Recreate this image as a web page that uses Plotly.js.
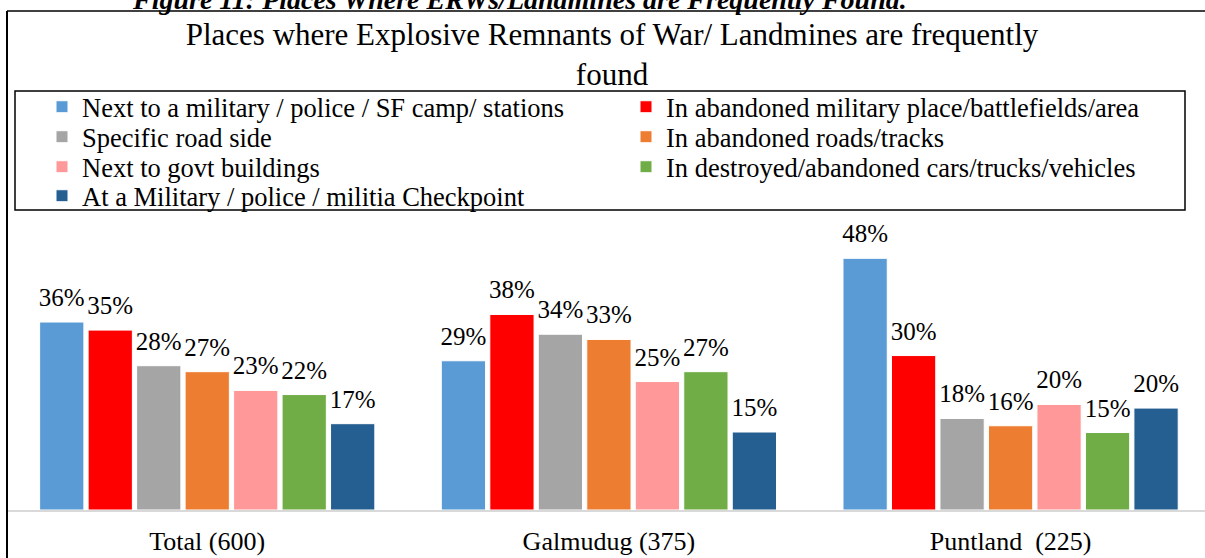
<!DOCTYPE html>
<html>
<head>
<meta charset="utf-8">
<script src="https://cdn.plot.ly/plotly-3.0.1.min.js"></script>
<style>
  html, body { margin: 0; padding: 0; background: #ffffff; }
  #chart { width: 1205px; height: 558px; }
</style>
</head>
<body>
<div id="chart"></div>
<script>
// ---------- data ----------
const categories = ["Total (600)", "Galmudug (375)", "Puntland\u00a0 (225)"];

const seriesNames = [
  "Next to a military / police / SF camp/ stations",
  "In abandoned military place/battlefields/area",
  "Specific road side",
  "In abandoned roads/tracks",
  "Next to govt buildings",
  "In destroyed/abandoned cars/trucks/vehicles",
  "At a Military / police / militia Checkpoint"
];

const nextToCamp       = [36.15, 28.7, 48.4];
const abandonedMilArea = [34.6, 37.6, 29.7];
const specificRoadSide = [27.75, 33.8, 17.6];
const abandonedRoads   = [26.6, 32.8, 16.2];
const govtBuildings    = [23.0, 24.7, 20.3];
const destroyedVehicles = [22.2, 26.6, 14.9];
const checkpoint       = [16.6, 15.0, 19.6];

const seriesValues = [nextToCamp, abandonedMilArea, specificRoadSide, abandonedRoads,
                      govtBuildings, destroyedVehicles, checkpoint];

const seriesColors = ["#5B9BD5", "#FF0000", "#A5A5A5", "#ED7D31", "#FF9999", "#70AD47", "#255E91"];

const titleText = "Places where Explosive Remnants of War/ Landmines are frequently<br>found";
const captionText = "Figure 11: Places Where ERWs/Landmines are Frequently Found.";

// ---------- layout helpers ----------
const W = 1205, H = 558;
const mL = 8, mR = 0, mT = 220, mB = 48;
const plotW = W - mL - mR, plotH = H - mT - mB;
const px2paperX = px => (px - mL) / plotW;
const px2paperY = py => (H - mB - py) / plotH;

const FONT = "Liberation Serif, Times New Roman, serif";
const GAP = 0.155;

const barTraces = seriesNames.map((name, i) => ({
  type: "bar",
  name: name,
  x: categories,
  y: seriesValues[i],
  marker: { color: seriesColors[i], line: { color: "#ffffff", width: 1 } },
  hoverinfo: "none",
  legend: i === 0 ? "legend" : "legend" + (i + 1)
}));

// value labels, grouped exactly like the bars
const labelTraces = seriesNames.map((name, i) => ({
  type: "scatter",
  mode: "markers+text",
  name: name + " label",
  x: categories,
  y: seriesValues[i],
  marker: { size: 14, opacity: 0 },
  texttemplate: "%{y:.0f}%",
  textposition: "top center",
  textfont: { family: FONT, size: 25, color: "#000000" },
  cliponaxis: false,
  showlegend: false,
  hoverinfo: "none"
}));

const layout = {
  width: W,
  height: H,
  margin: { l: mL, r: mR, t: mT, b: mB, pad: 0, autoexpand: false },
  paper_bgcolor: "#ffffff",
  plot_bgcolor: "#ffffff",
  font: { family: FONT, color: "#000000" },
  barmode: "group",
  bargap: GAP,
  bargroupgap: 0.087,
  scattermode: "group",
  scattergap: GAP,
  showlegend: true,
  title: {
    text: titleText,
    font: { family: FONT, size: 31, color: "#000000" },
    xref: "container", x: 612 / W, xanchor: "center",
    yref: "container", y: 1 - 45 / H, yanchor: "top",
    automargin: false
  },
  xaxis: {
    type: "category",
    range: [-0.496, 2.484],
    showline: true,
    linecolor: "#D9D9D9",
    linewidth: 1.5,
    ticks: "",
    showgrid: false,
    zeroline: false,
    tickfont: { family: FONT, size: 26, color: "#000000" },
    ticklabelstandoff: 7,
    automargin: false,
    fixedrange: true
  },
  yaxis: {
    range: [0, plotH / 5.2],
    showgrid: false,
    zeroline: false,
    showticklabels: false,
    ticks: "",
    showline: false,
    automargin: false,
    fixedrange: true
  },
  shapes: [
    // outer chart frame (top and left edges)
    { type: "line", xref: "paper", yref: "paper",
      x0: px2paperX(7), x1: px2paperX(1206), y0: px2paperY(11), y1: px2paperY(11),
      line: { color: "#000000", width: 1.5 } },
    { type: "line", xref: "paper", yref: "paper",
      x0: px2paperX(7), x1: px2paperX(7), y0: px2paperY(11), y1: px2paperY(560),
      line: { color: "#000000", width: 2 } },
    // legend box
    { type: "rect", xref: "paper", yref: "paper",
      x0: px2paperX(15), x1: px2paperX(1185), y0: px2paperY(210), y1: px2paperY(91),
      line: { color: "#000000", width: 1.5 }, fillcolor: "rgba(0,0,0,0)" }
  ],
  annotations: [
    { text: "<b><i>" + captionText + "</i></b>", showarrow: false,
      xref: "paper", yref: "paper", x: px2paperX(519), y: px2paperY(17),
      xanchor: "center", yanchor: "bottom",
      font: { family: FONT, size: 28, color: "#000000" } }
  ]
};

// one small legend per series, laid out in two columns like the original
const colX = [42, 626];
const rowY = [107, 137, 167, 196];
seriesNames.forEach((n, i) => {
  const key = i === 0 ? "legend" : "legend" + (i + 1);
  layout[key] = {
    xref: "container", yref: "container",
    x: colX[i % 2] / W, y: 1 - rowY[Math.floor(i / 2)] / H,
    xanchor: "left", yanchor: "middle",
    orientation: "v",
    bgcolor: "rgba(0,0,0,0)",
    borderwidth: 0,
    itemwidth: 30,
    font: { family: FONT, size: 26.5, color: "#000000" }
  };
});

Plotly.newPlot("chart", barTraces.concat(labelTraces), layout, { displayModeBar: false, staticPlot: true });
</script>
</body>
</html>
